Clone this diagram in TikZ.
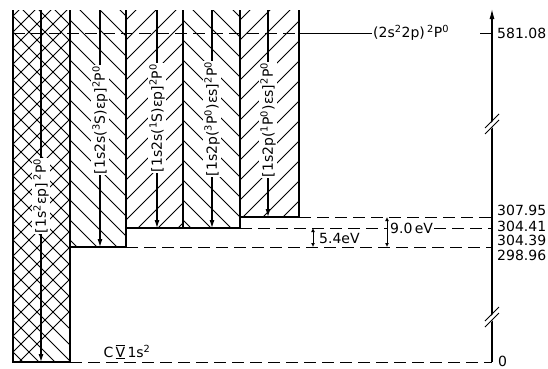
\documentclass[tikz,border=0pt]{standalone}
\usepackage{fontspec}
\setmainfont{DejaVu Sans}
\usetikzlibrary{arrows.meta}
\newcommand{\su}[1]{\textsuperscript{#1}}
\begin{document}
\begin{tikzpicture}[x=1pt,y=-1pt,
  edge/.style={line width=1.4pt},
  hatch/.style={line width=0.85pt},
  lvl/.style={dash pattern=on 12pt off 6pt, line width=0.95pt},
  lab/.style={font=\fontsize{14}{16}\selectfont, fill=white, inner sep=1pt, rotate=90},
  num/.style={font=\fontsize{14}{16}\selectfont, anchor=west, inner sep=0pt},
  txt/.style={font=\fontsize{14}{16}\selectfont, inner sep=1pt},
  darr/.style={-{Latex[length=8pt,width=5pt]}, line width=1.1pt},
  evarr/.style={{Latex[length=4pt,width=4pt]}-{Latex[length=4pt,width=4pt]}, line width=0.9pt},
  ]
\useasboundingbox (0,0) rectangle (548,368);
% ---------- hatching ----------
\begin{scope}
  \clip (13,10) rectangle (70,362);
  \foreach \c in {-80,-64,...,380} {
    \draw[hatch] (13,\c) -- ++(80,80);
    \draw[hatch] (13,\c) -- ++(80,-80);
  }
\end{scope}
\begin{scope}
  \clip (70,10) rectangle (126,247);
  \foreach \c in {-80,-60,...,260} \draw[hatch] (70,\c) -- ++(70,70);
\end{scope}
\begin{scope}
  \clip (126,10) rectangle (183,228);
  \foreach \c in {0,20,...,320} \draw[hatch] (126,\c) -- ++(70,-70);
\end{scope}
\begin{scope}
  \clip (183,10) rectangle (240,228);
  \foreach \c in {-80,-60,...,260} \draw[hatch] (183,\c) -- ++(70,70);
\end{scope}
\begin{scope}
  \clip (240,10) rectangle (299,217);
  \foreach \c in {0,20,...,320} \draw[hatch] (240,\c) -- ++(70,-70);
\end{scope}
% ---------- column outlines ----------
\coordinate (c1tl) at (13,10);  \coordinate (c1bl) at (13,362);
\coordinate (c1br) at (70,362); \coordinate (c1tr) at (70,10);
\coordinate (c2b) at (70,247);  \coordinate (c2br) at (126,247); \coordinate (c2tr) at (126,10);
\coordinate (c3b) at (126,228); \coordinate (c3br) at (183,228); \coordinate (c3tr) at (183,10);
\coordinate (c4br) at (240,228); \coordinate (c4tr) at (240,10);
\coordinate (c5br) at (299,217); \coordinate (c5tr) at (299,10);
\draw[edge] (c1tl) -- (c1bl) -- (c1br) -- (c1tr);
\draw[edge] (c2b) -- (c2br) -- (c2tr);
\draw[edge] (c3b) -- (c3br) -- (c3tr);
\draw[edge] (c3br) -- (c4br) -- (c4tr);
\draw[edge] (c4br |- c5br) -- (c5br) -- (c5tr);
% ---------- column arrows and labels ----------
\coordinate (a1t) at (41,10);  \coordinate (a1b) at (41,362);
\coordinate (a2t) at (100,10); \coordinate (a2b) at (100,247);
\coordinate (a3t) at (157,10); \coordinate (a3b) at (157,228);
\coordinate (a4t) at (212,10); \coordinate (a4b) at (212,228);
\coordinate (a5t) at (268,10); \coordinate (a5b) at (268,217);
\foreach \i in {1,...,5} \draw[darr] (a\i t) -- (a\i b);
\node[lab] (l1) at (41,196)  {[1s\su{2}εp]\,\su{2}P\su{0}};
\node[lab] (l2) at (100,120) {[1s2s(\su{3}S)εp]\su{2}P\su{0}};
\node[lab] (l3) at (157,118) {[1s2s(\su{1}S)εp]\su{2}P\su{0}};
\node[lab] (l4) at (212,119) {[1s2p(\su{3}P\su{0})εs]\su{2}P\su{0}};
\node[lab] (l5) at (268,120) {[1s2p(\su{1}P\su{0})εs]\su{2}P\su{0}};
% ---------- axis ----------
\coordinate (ax0) at (492,362);
\coordinate (axt) at (492,9);
\draw[-{Latex[length=10pt,width=5pt]}, line width=1.1pt] (ax0) -- (axt);
\foreach \y in {125,318} {
  \fill[white] (486,\y+3) -- (498,\y-9) -- (498,\y-3) -- (486,\y+9) -- cycle;
  \draw[line width=0.9pt] (485,\y+3) -- (499,\y-11);
  \draw[line width=0.9pt] (485,\y+9) -- (499,\y-5);
}
% ---------- levels ----------
\coordinate (top0) at (13,33);
\coordinate (top1) at (299,33);
\node[txt, anchor=west] (toplab) at (372,33) {(2s\su{2}2p)\,\su{2}P\su{0}};
\draw[lvl] (top0) -- (top1);
\draw[line width=0.9pt] (top1) -- (toplab.west);
\coordinate (tk) at (480,33);
\draw[line width=0.9pt] (tk) -- (axt |- tk);
\node[num] (n1) at (497,33) {581.08};

\draw[lvl] (c5br) -- (ax0 |- c5br);
\node[num] (n2) at (497,210) {307.95};

\coordinate (e9) at (387,228);
\node[txt, anchor=west] (l9) at (389,228) {9.0\,eV};
\draw[lvl] (c4br) -- (e9);
\draw[lvl] (l9.east) -- (ax0 |- l9.east);
\node[num] (n3) at (497,226) {304.41};
\node[num] (n4) at (497,240) {304.39};

\draw[lvl] (c2br) -- (ax0 |- c2br);
\node[num] (n5) at (497,255) {298.96};

\draw[lvl] (c1br) -- (ax0);
\node[num] (n6) at (498,361) {0};
\node[txt] (cv) at (127,352) {C\,$\overline{\underline{\mbox{V}}}$\,1s\su{2}};

% ---------- energy differences ----------
\coordinate (e5t) at (313,228); \coordinate (e5b) at (313,247);
\draw[evarr] (e5t) -- (e5b);
\node[txt, anchor=west] (l5e) at (318,238) {5.4eV};
\coordinate (e9t) at (387,217); \coordinate (e9b) at (387,247);
\draw[evarr] (e9t) -- (e9b);
\end{tikzpicture}
\end{document}
